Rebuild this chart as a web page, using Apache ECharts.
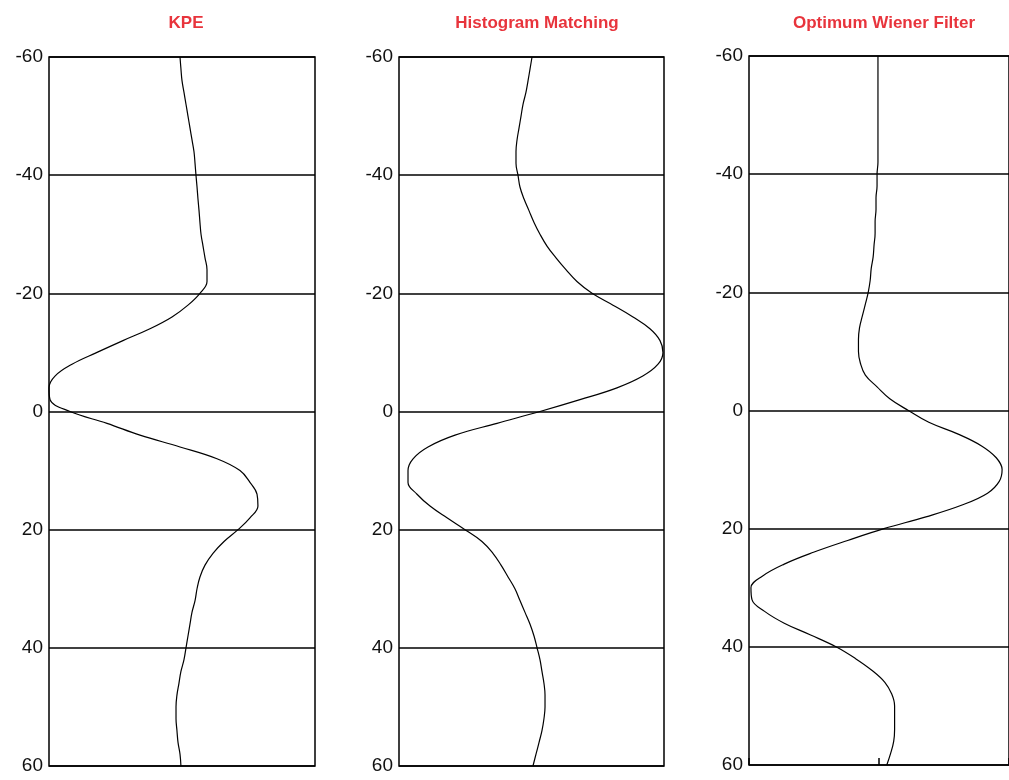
<!DOCTYPE html>
<html>
<head>
<meta charset="utf-8">
<script src="https://cdn.jsdelivr.net/npm/echarts@6/dist/echarts.min.js"></script>
<style>
  html, body { margin: 0; padding: 0; background: #fff; }
  #chart { width: 1009px; height: 780px; }
</style>
</head>
<body>
<div id="chart"></div>
<script>
// Panel titles
const titles = ['KPE', 'Histogram Matching', 'Optimum Wiener Filter'];
// Depth samples (vertical axis, increasing downward)
const depths = [-60,-58,-56,-54,-52,-50,-48,-46,-44,-42,-40,-38,-36,-34,-32,-30,-28,-26,-24,-22,-20,-18,-16,-14,-12,-10,-8,-6,-4,-2,0,2,4,6,8,10,12,14,16,18,20,22,24,26,28,30,32,34,36,38,40,42,44,46,48,50,52,54,56,58,60];
// Tick labels on the vertical axis
const yTicks = [-60, -40, -20, 0, 20, 40, 60];
// Normalised wavelet amplitude for each panel (one value per depth)
const kpe = [-0.015,-0.008,0,0.015,0.030,0.045,0.060,0.075,0.090,0.098,0.105,0.113,0.120,0.128,0.135,0.143,0.158,0.173,0.188,0.188,0.135,0.045,-0.075,-0.241,-0.444,-0.639,-0.827,-0.955,-1.0,-0.992,-0.842,-0.564,-0.316,-0.015,0.263,0.436,0.511,0.564,0.571,0.511,0.421,0.316,0.233,0.173,0.135,0.113,0.098,0.075,0.060,0.045,0.030,0.015,-0.008,-0.023,-0.038,-0.045,-0.045,-0.038,-0.030,-0.015,-0.008];
const histMatch = [0.004,-0.011,-0.026,-0.042,-0.064,-0.079,-0.094,-0.109,-0.117,-0.117,-0.102,-0.087,-0.057,-0.019,0.019,0.064,0.117,0.185,0.260,0.343,0.457,0.615,0.766,0.894,0.970,0.992,0.955,0.840,0.645,0.366,0.064,-0.260,-0.577,-0.781,-0.894,-0.932,-0.932,-0.864,-0.766,-0.638,-0.502,-0.374,-0.291,-0.230,-0.177,-0.125,-0.087,-0.049,-0.011,0.019,0.042,0.064,0.079,0.094,0.102,0.102,0.094,0.079,0.057,0.034,0.011];
const wiener = [-0.008,-0.008,-0.008,-0.008,-0.008,-0.008,-0.008,-0.008,-0.008,-0.008,-0.015,-0.015,-0.023,-0.023,-0.030,-0.030,-0.038,-0.045,-0.060,-0.068,-0.083,-0.105,-0.128,-0.150,-0.158,-0.158,-0.143,-0.105,-0.015,0.083,0.226,0.383,0.609,0.789,0.902,0.947,0.925,0.835,0.639,0.361,0.038,-0.241,-0.504,-0.729,-0.895,-0.985,-0.977,-0.880,-0.729,-0.526,-0.331,-0.180,-0.053,0.045,0.098,0.120,0.120,0.120,0.113,0.090,0.060];

const seriesData = [kpe, histMatch, wiener];
const grids = [
  { left: 49, top: 57, width: 266, height: 709 },
  { left: 399, top: 57, width: 265, height: 709 },
  { left: 749, top: 56, width: 266, height: 709 }
];
const titleCenters = [181, 532, 879];

const chart = echarts.init(document.getElementById('chart'), null, { renderer: 'canvas' });

const option = {
  backgroundColor: '#ffffff',
  animation: false,
  title: titles.map((t, i) => ({
    text: t,
    left: titleCenters[i],
    top: 10,
    textAlign: 'center',
    textStyle: { color: '#e8343c', fontSize: 17, fontWeight: 'bold', fontFamily: 'Liberation Sans, Arial, sans-serif' }
  })),
  grid: grids.map(g => Object.assign({ show: true, borderColor: '#000', borderWidth: 1.5, backgroundColor: 'transparent' }, g)),
  xAxis: grids.map((g, i) => ({
    gridIndex: i,
    type: 'value',
    position: 'bottom',
    min: -1, max: 1, interval: 1,
    show: i === 2,
    axisLine: { show: false, onZero: false },
    axisLabel: { show: false },
    splitLine: { show: false },
    axisTick: { show: i === 2, inside: true, length: 7, lineStyle: { color: '#000', width: 1.5 } }
  })),
  yAxis: grids.map((g, i) => ({
    gridIndex: i,
    type: 'value',
    inverse: true,
    min: yTicks[0], max: yTicks[yTicks.length - 1], interval: 20,
    axisLine: { show: false, onZero: false },
    axisTick: { show: false },
    axisLabel: { color: '#111', fontSize: 19, margin: 6, fontFamily: 'Liberation Sans, Arial, sans-serif' },
    splitLine: { show: true, lineStyle: { color: '#000', width: 1.5 } }
  })),
  series: seriesData.map((vals, i) => ({
    type: 'line',
    xAxisIndex: i,
    yAxisIndex: i,
    data: vals.map((v, k) => [v, depths[k]]),
    smooth: 0.4,
    showSymbol: false,
    clip: false,
    lineStyle: { color: '#000', width: 1.2 },
    z: 5
  }))
};

chart.setOption(option);
</script>
</body>
</html>
